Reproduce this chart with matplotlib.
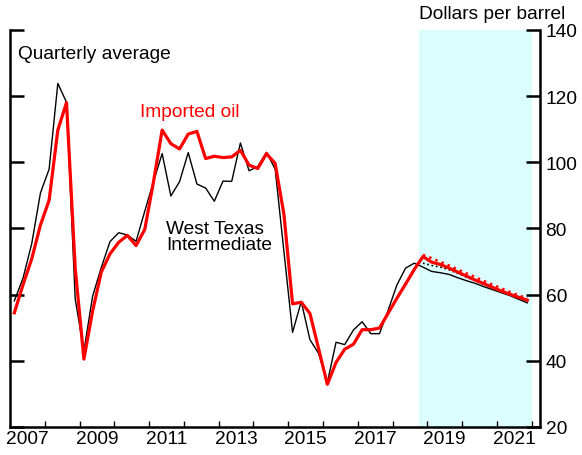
import matplotlib.pyplot as plt
import numpy as np

plt.rcParams['font.family'] = ['Liberation Sans', 'DejaVu Sans']

# quarterly data, 2007Q1 .. 2018Q3 (actuals)
wti = [58.1, 65.0, 75.4, 90.7,
       97.9, 123.8, 118.1, 58.7,
       42.9, 59.5, 68.2, 76.0,
       78.7, 78.0, 76.1, 85.2,
       94.1, 102.6, 89.8, 94.1,
       102.9, 93.4, 92.2, 88.2,
       94.3, 94.2, 105.8, 97.4,
       98.7, 103.0, 97.9, 73.2,
       48.6, 57.9, 46.4, 42.2,
       33.4, 45.6, 44.9, 49.3,
       51.8, 48.2, 48.2, 55.3,
       62.9, 68.0, 69.5]
imported = [54.5, 63.0, 70.8, 81.0,
            88.5, 109.7, 118.0, 68.0,
            40.5, 55.0, 66.8, 72.3,
            75.8, 77.9, 74.8, 79.7,
            94.0, 109.7, 105.6, 104.0,
            108.5, 109.3, 101.1, 101.8,
            101.4, 101.6, 103.6, 99.1,
            98.1, 102.6, 99.6, 84.4,
            57.2, 57.7, 54.3, 43.6,
            32.9, 39.5, 43.5, 45.0,
            49.4, 49.4, 49.9, 54.4,
            58.9, 63.2, 67.6]

# forecasts, 2018Q4 .. 2021Q4
wti_fc = [68.3, 67.0, 66.6, 66.1, 65.1, 64.2, 63.4, 62.4, 61.5, 60.6, 59.7, 58.6, 57.5]
imported_fc = [71.5, 69.8, 69.1, 68.0, 66.8, 65.6, 64.4, 63.3, 62.2, 61.1, 60.1, 59.2, 58.3]
wti_prev_fc = [69.5, 68.8, 68.3, 67.5, 66.4, 65.3, 64.2, 63.1, 62.0, 61.0, 60.0, 59.1, 58.1]
imported_prev_fc = [72.0, 71.0, 69.9, 68.8, 67.6, 66.4, 65.3, 64.1, 63.0, 61.9, 60.8, 59.8, 58.8]

n_act = len(wti)
n_all = n_act + len(wti_fc)
t_all = 2007 + (np.arange(n_all) + 0.5) / 4
t_fc = t_all[n_act:]

fs = 13.8

fig = plt.figure(figsize=(5.82, 4.56), dpi=100)
ax = fig.add_axes([10 / 582, 1 - 428 / 456, 530 / 582, (428 - 30.8) / 456])

# forecast shading
ax.axvspan(2018.75, 2022.0, color='#dcfdfd', lw=0, zorder=0)

ax.plot(t_all, wti + wti_fc, color='black', lw=1.0, zorder=3)
ax.plot(t_fc, wti_prev_fc, color='black', lw=1.2, ls=':', zorder=3)
ax.plot(t_fc, imported_prev_fc, color='red', lw=1.8, ls=':', zorder=4)
ax.plot(t_all, imported + imported_fc, color='red', lw=2.3, zorder=5)

ax.set_xlim(2007, 2022.24)
ax.set_ylim(20, 140)

# spines
for s in ['left', 'right', 'bottom']:
    ax.spines[s].set_linewidth(1.8)
ax.spines['top'].set_visible(False)

# y ticks on both sides, labels right
ax.set_yticks(np.arange(20, 141, 20))
ax.tick_params(axis='y', which='major', left=True, right=True, labelleft=False,
               labelright=True, direction='in', length=10, width=1.8,
               labelsize=fs, pad=4)

# x ticks: year boundaries, labels at mid-year
ax.set_xticks(np.arange(2008, 2023))
ax.set_xticklabels([])
ax.tick_params(axis='x', which='major', direction='in', length=4, width=1.0)
ax.set_xticks(np.arange(2007.5, 2022, 2), minor=True)
ax.set_xticklabels([str(y) for y in range(2007, 2022, 2)], minor=True)
ax.tick_params(axis='x', which='minor', length=0, labelsize=fs, pad=2)

ax.text(2007.22, 132.9, 'Quarterly average', fontsize=fs, va='center', ha='left')
ax.text(2010.74, 115.4, 'Imported oil', fontsize=fs, color='red', va='center', ha='left')
ax.text(2011.5, 77.6, 'West Texas\nIntermediate', fontsize=fs, va='center', ha='left',
        linespacing=0.95)
fig.text(0.972, 0.958, 'Dollars per barrel', fontsize=fs, ha='right', va='baseline')

fig.savefig('out.png', dpi=100)
